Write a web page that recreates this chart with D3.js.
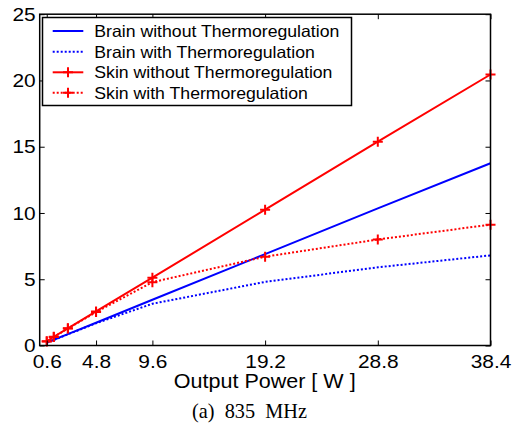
<!DOCTYPE html>
<html>
<head>
<meta charset="utf-8">
<script src="https://cdn.jsdelivr.net/npm/d3@7"></script>
<style>
  html, body { margin: 0; padding: 0; background: #fff; }
  svg { display: block; }
  text { font-family: "Liberation Sans", Arial, sans-serif; fill: #000; }
</style>
</head>
<body>
<svg id="chart" width="514" height="427"></svg>
<script>
// Output power (W) sampled for each run
const power = [0.6, 1.2, 2.4, 4.8, 9.6, 19.2, 28.8, 38.4];

// Temperature rise for each case
const brainWithout = [0.22, 0.43, 0.86, 1.72, 3.45, 6.9, 10.35, 13.75];
const brainWith    = [0.21, 0.42, 0.84, 1.68, 3.15, 4.8, 5.9, 6.8];
const skinWithout  = [0.32, 0.66, 1.3, 2.57, 5.12, 10.25, 15.38, 20.45];
const skinWith     = [0.31, 0.64, 1.28, 2.52, 4.78, 6.7, 8.0, 9.12];

const xTicks = [0.6, 4.8, 9.6, 19.2, 28.8, 38.4];
const yTicks = [0, 5, 10, 15, 20, 25];

const seriesNames = [
  "Brain without Thermoregulation",
  "Brain with Thermoregulation",
  "Skin without Thermoregulation",
  "Skin with Thermoregulation"
];

const series = [
  { name: seriesNames[0], values: brainWithout, color: "#0000ff", dash: null, marker: false },
  { name: seriesNames[1], values: brainWith,    color: "#0000ff", dash: "2,2", marker: false },
  { name: seriesNames[2], values: skinWithout,  color: "#ff0000", dash: null, marker: true },
  { name: seriesNames[3], values: skinWith,     color: "#ff0000", dash: "2,2", marker: true }
];

const svg = d3.select("#chart");
const margin = { left: 39.7, right: 23.5, top: 14.2, bottom: 81.5 };
const W = 514, H = 427;
const x0 = margin.left, x1 = W - margin.right;
const y0 = H - margin.bottom, y1 = margin.top;

const x = d3.scaleLinear().domain([0, 38.4]).range([x0, x1]);
const y = d3.scaleLinear().domain([0, 25]).range([y0, y1]);

// Widen text slightly to the proportions of the original typeface
function stretch(sel, factor) {
  sel.each(function () {
    const len = this.getComputedTextLength();
    d3.select(this).attr("textLength", len * factor).attr("lengthAdjust", "spacingAndGlyphs");
  });
}

// Series lines
const line = d3.line().x((d, i) => x(power[i])).y(d => y(d));
const g = svg.append("g");
series.forEach(s => {
  g.append("path")
    .datum(s.values)
    .attr("d", line)
    .attr("fill", "none")
    .attr("stroke", s.color)
    .attr("stroke-width", 2)
    .attr("stroke-dasharray", s.dash);
});

// Plus markers on the skin series
function plus(sel, cx, cy, color) {
  sel.append("path")
    .attr("d", `M${cx - 5},${cy}H${cx + 5}M${cx},${cy - 5}V${cy + 5}`)
    .attr("stroke", color)
    .attr("stroke-width", 2)
    .attr("fill", "none");
}
series.filter(s => s.marker).forEach(s => {
  s.values.forEach((v, i) => plus(g, x(power[i]), y(v), s.color));
});

// Axes: ticks point inward, mirrored on top and right
const tickLen = 5;
const bottomAxis = d3.axisBottom(x).tickValues(xTicks).tickSizeInner(-tickLen).tickSizeOuter(0)
  .tickFormat(d3.format(".1f")).tickPadding(9);
const topAxis = d3.axisTop(x).tickValues(xTicks).tickSizeInner(-tickLen).tickSizeOuter(0).tickFormat("");
const leftAxis = d3.axisLeft(y).tickValues(yTicks).tickSizeInner(-tickLen).tickSizeOuter(0).tickPadding(4);
const rightAxis = d3.axisRight(y).tickValues(yTicks).tickSizeInner(-tickLen).tickSizeOuter(0).tickFormat("");

function styleAxis(a) {
  a.select(".domain").remove();
  a.selectAll(".tick line").attr("stroke", "#000").attr("stroke-width", 1);
  a.selectAll("text").style("font-family", "Liberation Sans, Arial, sans-serif").style("font-size", "19px").attr("fill", "#000");
  a.selectAll("text").call(stretch, 1.1);
}
svg.append("g").attr("transform", `translate(0,${y0})`).call(bottomAxis).call(styleAxis);
svg.append("g").attr("transform", `translate(0,${y1})`).call(topAxis).call(styleAxis);
svg.append("g").attr("transform", `translate(${x0},0)`).call(leftAxis).call(styleAxis);
svg.append("g").attr("transform", `translate(${x1},0)`).call(rightAxis).call(styleAxis);

// Plot frame
svg.append("rect")
  .attr("x", x0).attr("y", y1).attr("width", x1 - x0).attr("height", y0 - y1)
  .attr("fill", "none").attr("stroke", "#000").attr("stroke-width", 1.5);

// Axis title
svg.append("text")
  .attr("x", 264.7).attr("y", 388)
  .attr("text-anchor", "middle")
  .style("font-size", "20.5px")
  .text("Output Power [ W ]")
  .call(stretch, 1.05);

// Caption in serif
svg.append("text")
  .attr("x", 249.5).attr("y", 418)
  .attr("text-anchor", "middle")
  .style("font-family", "Liberation Serif, Times New Roman, serif")
  .style("font-size", "20.3px")
  .attr("xml:space", "preserve")
  .style("white-space", "pre")
  .text("(a)  835  MHz");

// Legend
const lg = svg.append("g");
lg.append("rect")
  .attr("x", 42.5).attr("y", 17.5).attr("width", 309).attr("height", 88)
  .attr("fill", "#fff").attr("stroke", "#000").attr("stroke-width", 1.5);
const rowY = [31, 51.7, 72.3, 92.7];
series.forEach((s, i) => {
  lg.append("line")
    .attr("x1", 52.7).attr("x2", 83.3).attr("y1", rowY[i]).attr("y2", rowY[i])
    .attr("stroke", s.color).attr("stroke-width", 2).attr("stroke-dasharray", s.dash);
  if (s.marker) plus(lg, 68, rowY[i], s.color);
  lg.append("text")
    .attr("x", 94.3).attr("y", rowY[i]).attr("dy", "0.36em")
    .style("font-size", "16.5px")
    .text(s.name)
    .call(stretch, 1.07);
});
</script>
</body>
</html>
